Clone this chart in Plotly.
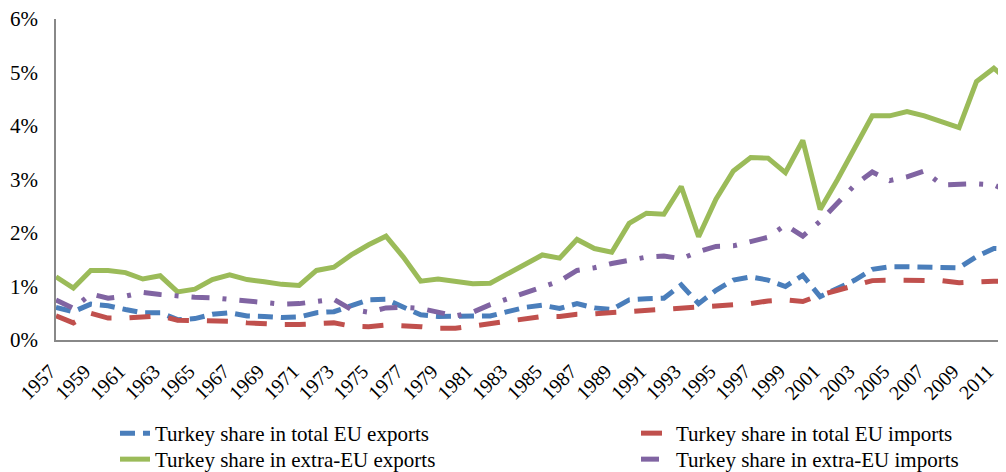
import plotly.graph_objects as go

years = list(range(1957, 2013))

total_exports = [0.61, 0.53, 0.67, 0.64, 0.57, 0.51, 0.51, 0.38, 0.40, 0.48,
                 0.51, 0.45, 0.44, 0.42, 0.43, 0.51, 0.53, 0.65, 0.75, 0.76,
                 0.62, 0.47, 0.44, 0.44, 0.45, 0.45, 0.53, 0.61, 0.65, 0.59,
                 0.68, 0.60, 0.57, 0.75, 0.77, 0.78, 1.03, 0.68, 0.93, 1.12,
                 1.18, 1.12, 1.00, 1.21, 0.81, 0.97, 1.12, 1.32, 1.37, 1.37,
                 1.37, 1.35, 1.35, 1.56, 1.71, 1.70]

total_imports = [0.45, 0.32, 0.50, 0.41, 0.41, 0.43, 0.45, 0.37, 0.37, 0.36,
                 0.35, 0.32, 0.30, 0.29, 0.29, 0.30, 0.32, 0.26, 0.25, 0.28,
                 0.27, 0.25, 0.22, 0.22, 0.26, 0.31, 0.34, 0.39, 0.44, 0.44,
                 0.48, 0.49, 0.51, 0.53, 0.56, 0.57, 0.61, 0.62, 0.64, 0.65,
                 0.68, 0.73, 0.75, 0.72, 0.84, 0.93, 1.03, 1.11, 1.12, 1.12,
                 1.13, 1.11, 1.07, 1.09, 1.10, 1.10]

extra_exports = [1.18, 0.97, 1.30, 1.30, 1.26, 1.14, 1.20, 0.90, 0.95, 1.13,
                 1.22, 1.13, 1.09, 1.04, 1.02, 1.30, 1.36, 1.59, 1.78, 1.94,
                 1.55, 1.10, 1.14, 1.09, 1.05, 1.06, 1.23, 1.40, 1.59, 1.53,
                 1.88, 1.71, 1.64, 2.18, 2.37, 2.35, 2.87, 1.93, 2.63, 3.16,
                 3.41, 3.40, 3.13, 3.73, 2.44, 3.00, 3.58, 4.19, 4.19, 4.27,
                 4.19, 4.08, 3.97, 4.83, 5.08, 4.80]

extra_imports = [0.75, 0.59, 0.86, 0.78, 0.82, 0.89, 0.85, 0.82, 0.80, 0.79,
                 0.76, 0.73, 0.69, 0.67, 0.68, 0.72, 0.76, 0.57, 0.52, 0.60,
                 0.61, 0.59, 0.53, 0.45, 0.52, 0.66, 0.77, 0.88, 0.98, 1.10,
                 1.30, 1.35, 1.43, 1.48, 1.55, 1.57, 1.52, 1.65, 1.75, 1.76,
                 1.83, 1.92, 2.15, 1.94, 2.22, 2.56, 2.90, 3.14, 2.98, 3.05,
                 3.16, 2.90, 2.92, 2.92, 2.90, 2.75]

names = ["Turkey share in total EU exports", "Turkey share in total EU imports",
         "Turkey share in extra-EU exports", "Turkey share in extra-EU imports"]

tick_years = list(range(1957, 2012, 2))
tick_labels = [str(y) for y in tick_years]
y_ticks = [0, 1, 2, 3, 4, 5, 6]

FONT = "Liberation Serif, Times New Roman, serif"

fig = go.Figure()
fig.add_trace(go.Scatter(x=years, y=total_exports, mode="lines", name=names[0],
                         line=dict(color="#4A7EBB", width=5, dash="15px,8px"),
                         legend="legend"))
fig.add_trace(go.Scatter(x=years, y=total_imports, mode="lines", name=names[1],
                         line=dict(color="#C0504D", width=5, dash="21px,18px"),
                         legend="legend2"))
fig.add_trace(go.Scatter(x=years, y=extra_exports, mode="lines", name=names[2],
                         line=dict(color="#9BBB59", width=5),
                         legend="legend3"))
fig.add_trace(go.Scatter(x=years, y=extra_imports, mode="lines", name=names[3],
                         line=dict(color="#8064A2", width=5, dash="18px,13px,4px,13px"),
                         legend="legend4"))

def leg(x, y):
    return dict(xref="paper", yref="paper", x=x, y=y, xanchor="left",
                yanchor="top", orientation="v", bgcolor="rgba(0,0,0,0)",
                font=dict(family=FONT, size=21, color="#000000"),
                tracegroupgap=0, itemwidth=30)

row1, row2 = -0.2274, -0.3084
col1, col2 = 0.0621, 0.6105

fig.update_layout(
    width=998, height=464,
    margin=dict(l=48, r=0, t=11, b=132, autoexpand=False),
    paper_bgcolor="white", plot_bgcolor="white",
    font=dict(family=FONT, size=20, color="#000000"),
    showlegend=True,
    legend=leg(col1, row1),
    legend2=leg(col2, row1),
    legend3=leg(col1, row2),
    legend4=leg(col2, row2),
)

fig.update_xaxes(range=[1957, 2011.7], tickmode="array", tickvals=tick_years,
                 ticktext=tick_labels, tickangle=-45, showgrid=False,
                 zeroline=False, showline=True, linecolor="#888888", linewidth=1.5,
                 ticks="", automargin=False, ticklabelstandoff=10,
                 ticklabelshift=-6, ticklabeloverflow="allow",
                 tickfont=dict(family=FONT, size=20, color="#000000"))
fig.update_yaxes(range=[0, 6], tickmode="array", tickvals=y_ticks,
                 ticktext=[f"{v}%" for v in y_ticks], showgrid=False,
                 zeroline=False, showline=True, linecolor="#888888", linewidth=1.5,
                 ticks="", ticklabelstandoff=12, automargin=False,
                 ticklabeloverflow="allow",
                 tickfont=dict(family=FONT, size=21, color="#000000"))

fig.write_html("out.html")
